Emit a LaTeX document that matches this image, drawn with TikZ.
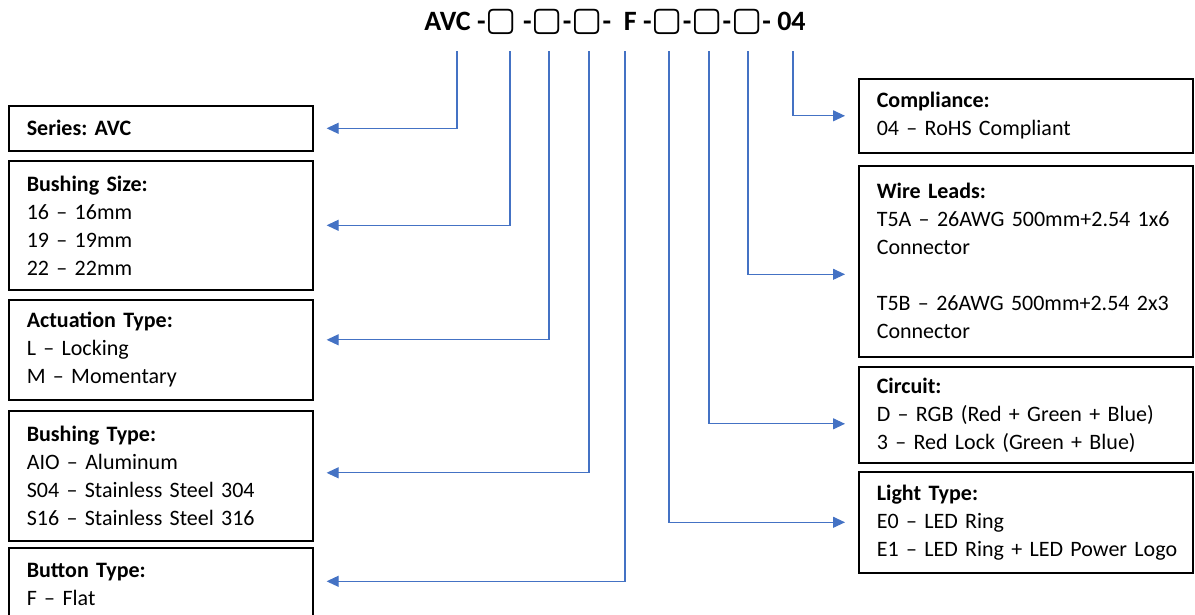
\documentclass[tikz,border=0pt]{standalone}
\usepackage{fontspec}
\setmainfont{Carlito}
\newfontfamily\boxglyph{DejaVu Sans}
\usepackage{xcolor}
\usepackage{tikz}
\usetikzlibrary{arrows.meta,positioning}

\definecolor{leadblue}{RGB}{68,114,196}
\newcommand{\slot}{{\boxglyph\mdseries\fontsize{33}{33}\selectfont ▢}}
\frenchspacing

\begin{document}
\begin{tikzpicture}[x=1pt, y=-1pt,
    spec/.style={draw, rectangle, line width=1.6pt, anchor=north west, align=left,
                 inner xsep=18pt, inner ysep=0pt, font=\fontsize{22}{28}\selectfont},
    leftspec/.style={spec, text width=268pt},
    rightspec/.style={spec, text width=298pt},
    lead/.style={-{Triangle[length=12pt, width=11pt]}, line width=1.1pt, leadblue}
]
    \useasboundingbox (0,0) rectangle (1195,614);
    \clip (0,0) rectangle (1195,614);

    % Part number code
    \node[font=\fontsize{28}{32}\selectfont\bfseries] (code) at (615,22)
        {AVC -\slot{} -\slot-\slot- ~F -\slot-\slot-\slot- 04};

    % Left column: options
    \node[leftspec, minimum height=45pt] (series) at (8,105) {\textbf{Series: AVC}};
    \node[leftspec, minimum height=129pt] (bsize) at (8,160)
        {\textbf{Bushing Size:}\\16 – 16mm\\19 – 19mm\\22 – 22mm};
    \node[leftspec, minimum height=100pt] (act) at (8,299)
        {\textbf{Actuation Type:}\\L – Locking\\M – Momentary};
    \node[leftspec, minimum height=130pt] (btype) at (8,410)
        {\textbf{Bushing Type:}\\AIO – Aluminum\\S04 – Stainless Steel 304\\S16 – Stainless Steel 316};
    \node[leftspec, minimum height=73pt] (button) at (8,547)
        {\textbf{Button Type:}\\F – Flat};

    % Right column: options
    \node[rightspec, minimum height=74pt] (comp) at (858,78)
        {\textbf{Compliance:}\\04 – RoHS Compliant};
    \node[rightspec, minimum height=191pt] (wire) at (858,165)
        {\textbf{Wire Leads:}\\\mbox{T5A – 26AWG 500mm+2.54 1x6}\\Connector\\[28pt]\mbox{T5B – 26AWG 500mm+2.54 2x3}\\Connector};
    \node[rightspec, minimum height=96pt] (circ) at (858,366)
        {\textbf{Circuit:}\\D – RGB (Red + Green + Blue)\\3 – Red Lock (Green + Blue)};
    \node[rightspec, minimum height=101pt] (light) at (858,471)
        {\textbf{Light Type:}\\E0 – LED Ring\\\mbox{E1 – LED Ring + LED Power Logo}};

    % Tops of the leads under the code
    \coordinate (pSeries) at (457,51);
    \coordinate (pBsize) at (510,51);
    \coordinate (pAct) at (549,51);
    \coordinate (pBtype) at (589,51);
    \coordinate (pButton) at (625,51);
    \coordinate (pLight) at (669,51);
    \coordinate (pCirc) at (709,51);
    \coordinate (pWire) at (748,51);
    \coordinate (pComp) at (793,51);

    % Leads
    \draw[lead] (pSeries) |- ([xshift=13pt]series.east);
    \draw[lead] (pBsize) |- ([xshift=13pt]bsize.east);
    \draw[lead] (pAct) |- ([xshift=13pt, yshift=10pt]act.east);
    \draw[lead] (pBtype) |- ([xshift=13pt, yshift=3pt]btype.east);
    \draw[lead] (pButton) |- ([xshift=13pt, yshift=3pt]button.east);

    \draw[lead] (pComp) |- ([xshift=-13pt]comp.west);
    \draw[lead] (pWire) |- ([xshift=-13pt, yshift=-13pt]wire.west);
    \draw[lead] (pCirc) |- ([xshift=-13pt, yshift=-9pt]circ.west);
    \draw[lead] (pLight) |- ([xshift=-13pt]light.west);
\end{tikzpicture}
\end{document}
